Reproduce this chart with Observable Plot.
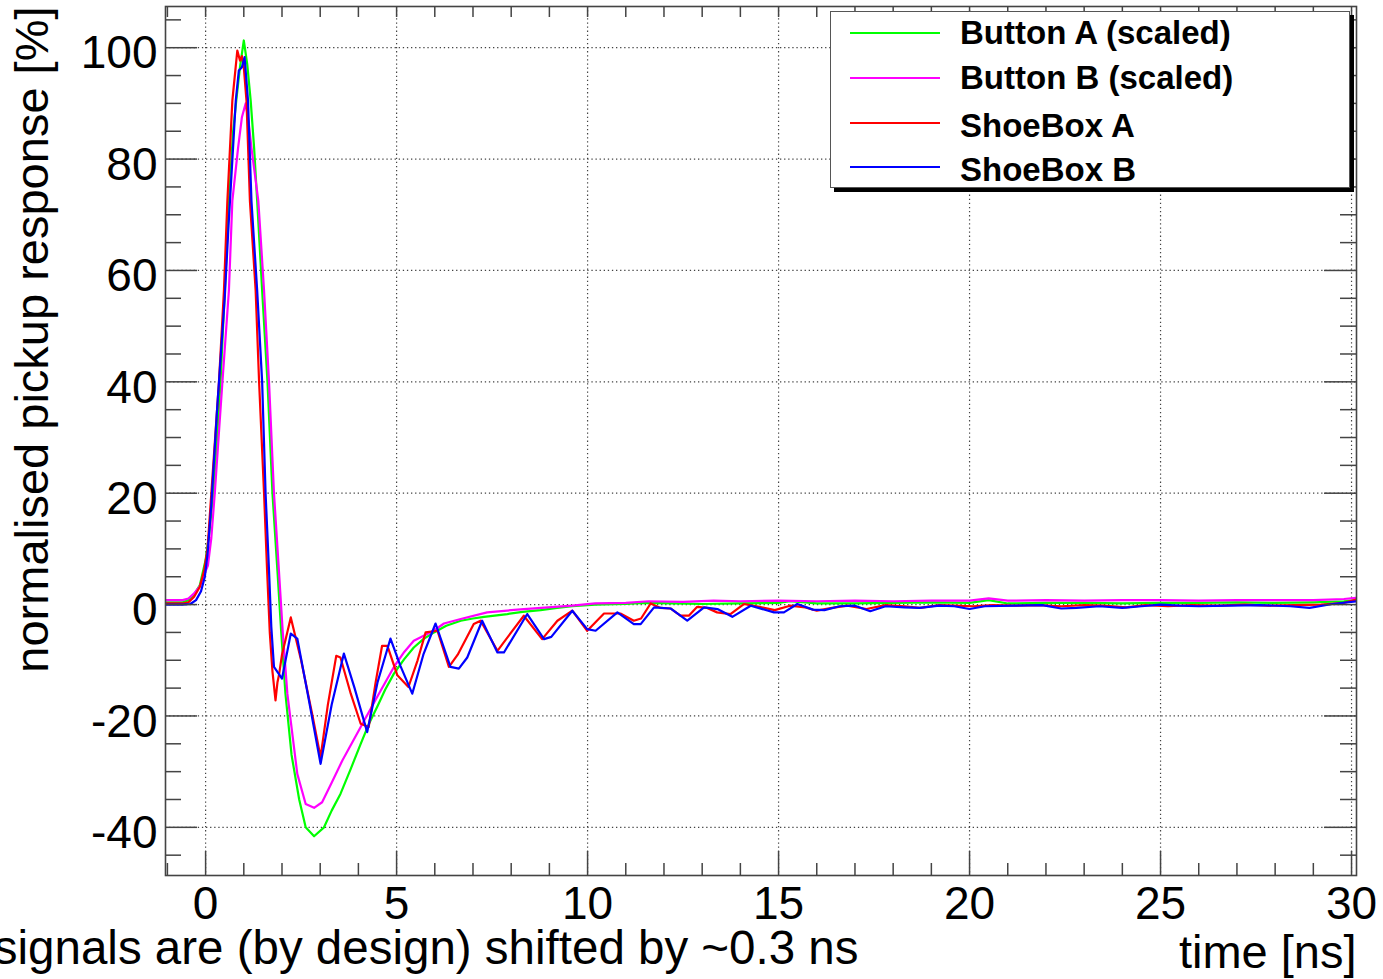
<!DOCTYPE html>
<html>
<head>
<meta charset="utf-8">
<script src="https://cdn.jsdelivr.net/npm/d3@7"></script>
<script src="https://cdn.jsdelivr.net/npm/@observablehq/plot@0.6"></script>
<style>
  html, body { margin: 0; padding: 0; background: white; }
  #wrap { position: relative; width: 1383px; height: 979px; overflow: hidden; }
  #legend { position: absolute; background: white; border: 1.5px solid #555; box-shadow: 4px 4px 0 #000; box-sizing: border-box; }
  .row { position: absolute; left: 0; height: 40px; }
  .swatch { position: absolute; left: 19px; width: 90px; height: 2px; }
  .lab { position: absolute; left: 129px; font: bold 33px "Liberation Sans", Arial, sans-serif; white-space: nowrap; color: #000; line-height: 40px; }
</style>
</head>
<body>
<div id="wrap"></div>
<script>
// ---- series data: [time ns, response %] ----
const buttonA = [[-1.05,0.4],[-0.6,0.4],[-0.45,0.8],[-0.3,1.8],[-0.15,3.5],[0,8],[0.1,13],[0.2,20],[0.3,30],[0.39,40],[0.5,56],[0.61,72.5],[0.72,85],[0.81,91],[0.9,96.5],[1.0,101.3],[1.09,97],[1.18,90.5],[1.27,82],[1.35,72.5],[1.48,56.4],[1.62,40],[1.75,20],[1.88,6.1],[1.98,-5],[2.09,-16],[2.25,-27],[2.45,-35],[2.62,-40],[2.84,-41.6],[3.1,-40],[3.3,-37],[3.53,-34],[3.8,-29.5],[4.06,-25],[4.27,-21.5],[4.49,-18.4],[4.7,-15.3],[4.93,-12.4],[5.2,-9.8],[5.45,-7.7],[5.7,-6.2],[5.98,-5.0],[6.3,-3.8],[6.68,-2.9],[7.0,-2.5],[7.29,-2.2],[7.9,-1.7],[8.3,-1.3],[8.77,-1.0],[9.2,-0.6],[9.6,-0.3],[10.2,0.0],[11.0,0.1],[11.5,0.3],[12.2,0.2],[13.0,0.1],[14.0,0.2],[15.0,0.3],[15.3,0.6],[16.0,0.2],[17.0,0.2],[18.0,0.3],[19.0,0.4],[20.0,0.3],[20.5,0.8],[21.0,0.2],[22.0,0.3],[23.0,0.3],[24.0,0.2],[25.0,0.3],[26.0,0.3],[27.0,0.4],[28.0,0.3],[29.0,0.4],[29.8,0.6],[30.13,0.8]];

const buttonB = [[-1.05,0.8],[-0.6,0.8],[-0.45,1.1],[-0.3,2.0],[-0.15,3.3],[0,6],[0.06,7],[0.15,12],[0.24,20],[0.34,30],[0.44,40],[0.61,56.4],[0.7,72.5],[0.85,82],[0.95,87.5],[1.05,90],[1.12,87],[1.2,82],[1.38,72.5],[1.53,56.4],[1.66,40],[1.79,20],[1.92,6],[2.02,-5],[2.14,-16],[2.4,-30.4],[2.62,-35.8],[2.84,-36.5],[3.05,-35.5],[3.3,-32],[3.58,-28],[4.06,-22],[4.49,-16.6],[4.93,-11.2],[5.2,-8.5],[5.45,-6.5],[5.97,-4.7],[6.24,-3.4],[6.68,-2.6],[7.37,-1.4],[8.33,-0.8],[9.6,-0.2],[10.2,0.2],[11.0,0.3],[11.6,0.6],[12.5,0.5],[13.3,0.7],[14.0,0.6],[15.0,0.7],[16.0,0.6],[17.0,0.7],[18.0,0.6],[19.0,0.7],[20.0,0.7],[20.5,1.1],[21.0,0.7],[22.0,0.8],[23.0,0.7],[24.0,0.8],[25.0,0.8],[26.0,0.7],[27.0,0.8],[28.0,0.8],[29.0,0.8],[29.8,1.0],[30.13,1.2]];

const shoeBoxA = [[-1.05,0.2],[-0.6,0.2],[-0.45,0.4],[-0.3,1.4],[-0.15,3.2],[-0.04,6.1],[0.05,10],[0.15,20],[0.25,30],[0.35,40],[0.48,56.4],[0.57,72.5],[0.7,90.5],[0.78,96],[0.83,99.5],[0.9,97.7],[0.95,98.5],[1.0,96.5],[1.07,90.5],[1.16,72.5],[1.31,56.4],[1.4,40],[1.53,20],[1.61,6.1],[1.68,-5],[1.75,-12],[1.83,-17.2],[1.88,-14],[1.92,-12.7],[2.0,-9],[2.23,-2.3],[2.5,-10],[2.8,-20],[3.01,-27.4],[3.2,-18],[3.42,-9.2],[3.53,-9.5],[3.8,-16],[4.06,-21.4],[4.27,-22],[4.45,-14],[4.62,-7.4],[4.76,-7.4],[5.02,-12.7],[5.31,-14.8],[5.55,-10],[5.76,-5.0],[6.07,-4.7],[6.37,-11.2],[6.6,-9],[7.02,-3.5],[7.2,-2.9],[7.64,-8.3],[8.0,-5],[8.33,-2.0],[8.81,-6.2],[9.21,-2.9],[9.6,-1.1],[9.99,-4.7],[10.43,-1.6],[10.86,-1.6],[11.21,-2.9],[11.4,-2.5],[11.65,0.2],[11.91,-0.6],[12.17,-0.7],[12.43,-2.0],[12.65,-2.0],[12.87,-0.4],[13.13,-0.6],[13.39,-1.4],[13.74,-1.7],[14.09,0.1],[14.5,-0.4],[14.9,-1.0],[15.3,-0.2],[15.7,-0.5],[16.0,-1.1],[16.4,-0.6],[16.8,-0.2],[17.3,-0.8],[17.8,-0.1],[18.3,-0.3],[18.7,-0.6],[19.2,-0.1],[19.6,-0.2],[20.1,-0.3],[20.6,-0.1],[21.2,-0.2],[21.8,-0.1],[22.4,-0.3],[23.0,-0.1],[23.5,-0.2],[24.1,-0.5],[24.6,-0.1],[25.2,-0.3],[25.8,-0.1],[26.5,-0.2],[27.2,0.0],[27.8,-0.2],[28.5,-0.1],[29.2,0.0],[29.8,0.3],[30.13,0.9]];

const shoeBoxB = [[-1.05,0.0],[-0.6,0.0],[-0.4,0.1],[-0.25,0.8],[-0.12,2.4],[-0.02,5],[0.05,9],[0.15,18],[0.3,35],[0.5,55],[0.6,68],[0.79,90.5],[0.87,95.9],[0.95,96.5],[1.02,98.3],[1.11,90.5],[1.2,72.5],[1.35,56.4],[1.48,40],[1.57,20],[1.66,6.1],[1.72,-4],[1.79,-11.2],[2.0,-13.3],[2.23,-5.2],[2.4,-6.1],[2.7,-17],[3.01,-28.6],[3.3,-18],[3.62,-8.8],[3.9,-15],[4.23,-22.9],[4.5,-14],[4.84,-6.1],[5.1,-11],[5.41,-16.0],[5.7,-9],[6.02,-3.4],[6.41,-11.2],[6.63,-11.5],[6.85,-9.5],[7.24,-2.9],[7.64,-8.6],[7.81,-8.6],[8.42,-1.7],[8.86,-6.2],[9.05,-5.8],[9.6,-1.1],[9.99,-4.4],[10.21,-4.7],[10.78,-1.4],[11.21,-3.5],[11.39,-3.5],[11.74,-0.5],[12.17,-0.7],[12.61,-2.9],[13.05,-0.5],[13.4,-0.8],[13.79,-2.2],[14.27,-0.2],[14.88,-1.4],[15.14,-1.4],[15.49,0.1],[15.9,-0.9],[16.2,-1.0],[16.6,-0.3],[17.0,-0.2],[17.4,-1.2],[17.8,-0.3],[18.3,-0.5],[18.7,-0.6],[19.2,-0.2],[19.6,-0.3],[20.0,-0.8],[20.4,-0.3],[21.2,-0.2],[21.9,-0.1],[22.4,-0.7],[22.8,-0.6],[23.4,-0.3],[24.0,-0.6],[24.5,-0.3],[25.0,0.0],[25.5,-0.2],[26.0,-0.3],[26.8,-0.2],[27.6,-0.1],[28.4,-0.3],[28.9,-0.6],[29.5,0.1],[30.13,0.6]];

const seriesNames = ["Button A (scaled)", "Button B (scaled)", "ShoeBox A", "ShoeBox B"];
const seriesColors = ["#00ff00", "#ff00ff", "#ff0000", "#0000ff"];
const seriesData = [buttonA, buttonB, shoeBoxA, shoeBoxB];

const xMajor = [0, 5, 10, 15, 20, 25, 30];
const xMinor = [-1,1,2,3,4,6,7,8,9,11,12,13,14,16,17,18,19,21,22,23,24,26,27,28,29];
const xAll = [-1,0,1,2,3,4,5,6,7,8,9,10,11,12,13,14,15,16,17,18,19,20,21,22,23,24,25,26,27,28,29,30];
const yMajor = [-40, -20, 0, 20, 40, 60, 80, 100];
const yMinor = [-45,-35,-30,-25,-15,-10,-5,5,10,15,25,30,35,45,50,55,65,70,75,85,90,95,105];

const xTitle = "time [ns]";
const yTitle = "normalised pickup response [%]";
const note = "signals are (by design) shifted by ~0.3 ns";

// ---- layout ----
const W = 1383, H = 979;
const mL = 165, mR = 27, mT = 6, mB = 104;
const fW = W - mL - mR, fH = H - mT - mB;
const axisCol = "#444";
const font = "'Liberation Sans', Arial, Helvetica, sans-serif";

const lineMarks = seriesData.map((s, i) =>
  Plot.line(s, {x: d => d[0], y: d => d[1], stroke: seriesColors[i], strokeWidth: 2.2, clip: true}));

const chart = Plot.plot({
  width: W, height: H,
  marginLeft: mL, marginRight: mR, marginTop: mT, marginBottom: mB,
  x: {domain: [-1.05, 30.13]},
  y: {domain: [-48.65, 107.4]},
  style: {fontFamily: font, background: "white", color: "#000"},
  marks: [
    Plot.gridX(xMajor, {stroke: "#222", strokeOpacity: 0.85, strokeWidth: 1.2, strokeDasharray: "1.3,2.8"}),
    Plot.gridY(yMajor, {stroke: "#222", strokeOpacity: 0.85, strokeWidth: 1.2, strokeDasharray: "1.3,2.8"}),
    ...lineMarks,
    // bottom ticks (inward)
    Plot.tickX(xMajor, {x: d => d, insetTop: fH - 24, stroke: axisCol, strokeWidth: 1.5}),
    Plot.tickX(xMinor, {x: d => d, insetTop: fH - 12, stroke: axisCol, strokeWidth: 1.5}),
    // top ticks
    Plot.tickX(xAll, {x: d => d, insetBottom: fH - 11, stroke: axisCol, strokeWidth: 1.5}),
    // left ticks
    Plot.tickY(yMajor, {y: d => d, insetRight: fW - 32, stroke: axisCol, strokeWidth: 1.5}),
    Plot.tickY(yMinor, {y: d => d, insetRight: fW - 16, stroke: axisCol, strokeWidth: 1.5}),
    // right ticks
    Plot.tickY(yMajor, {y: d => d, insetLeft: fW - 32, stroke: axisCol, strokeWidth: 1.5}),
    Plot.tickY(yMinor, {y: d => d, insetLeft: fW - 16, stroke: axisCol, strokeWidth: 1.5}),
    Plot.frame({stroke: axisCol, strokeWidth: 1.6}),
    Plot.axisX(xMajor, {tickSize: 0, tickPadding: 11, fontSize: 46, label: null, fill: "#000", tickFormat: d => String(d)}),
    Plot.axisY(yMajor, {tickSize: 0, tickPadding: 8, fontSize: 46, label: null, dy: 6, fill: "#000", tickFormat: d => String(d)}),
    Plot.text([yTitle], {frameAnchor: "top-left", text: d => d, rotate: -90, textAnchor: "end", lineAnchor: "bottom", dx: -118, dy: 0, fontSize: 47, fill: "#000"}),
    Plot.text([xTitle], {frameAnchor: "bottom-right", text: d => d, textAnchor: "end", lineAnchor: "bottom", dx: 0, dy: 92, fontSize: 47, fill: "#000"}),
    Plot.text([note], {frameAnchor: "bottom-left", text: d => d, textAnchor: "end", lineAnchor: "bottom", dx: 693, dy: 88, fontSize: 47.5, fill: "#000"})
  ]
});

const wrap = document.getElementById("wrap");
wrap.appendChild(chart);

// legend (HTML, inside the frame at top-right)
const legend = document.createElement("div");
legend.id = "legend";
legend.style.left = "830px";
legend.style.top = "11px";
legend.style.width = "520px";
legend.style.height = "177px";
const rowCenters = [21, 66, 111, 155];
seriesNames.forEach((name, i) => {
  const row = document.createElement("div");
  row.className = "row";
  row.style.top = (rowCenters[i] - 20) + "px";
  row.style.width = "100%";
  const sw = document.createElement("div");
  sw.className = "swatch";
  sw.style.background = seriesColors[i];
  sw.style.top = "19px";
  const lab = document.createElement("div");
  lab.className = "lab";
  lab.style.top = (i < 2 ? 0 : 3) + "px";
  lab.textContent = name;
  row.appendChild(sw);
  row.appendChild(lab);
  legend.appendChild(row);
});
wrap.appendChild(legend);
</script>
</body>
</html>
